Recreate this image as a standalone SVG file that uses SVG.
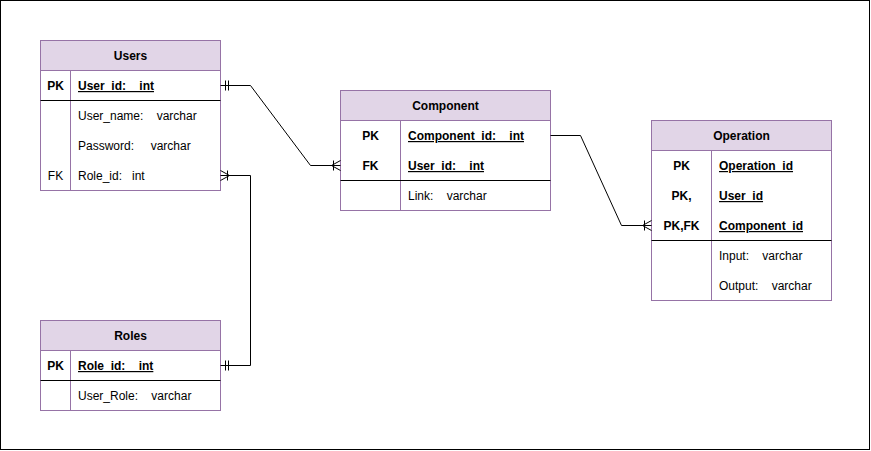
<svg xmlns="http://www.w3.org/2000/svg" width="871" height="451" viewBox="0 0 871 451">
  <style>
    .hdr { fill: #e1d5e7; stroke: #9673a6; stroke-width: 1; }
    .box { fill: #ffffff; stroke: #9673a6; stroke-width: 1; }
    .sep { stroke: #9673a6; stroke-width: 1; fill: none; }
    .div { stroke: #000000; stroke-width: 1; fill: none; }
    text { font-family: "Liberation Sans", Arial, Helvetica, sans-serif; font-size: 12px; fill: #000000; white-space: pre; }
    .t { font-weight: bold; text-anchor: middle; }
    .k { font-weight: bold; text-anchor: middle; }
    .kn { text-anchor: middle; }
    .pk { font-weight: bold; text-decoration: underline; }
    .ln { stroke: #000000; stroke-width: 1; fill: none; }
  </style>

  <rect x="0.5" y="0.5" width="869" height="449" fill="#ffffff" stroke="#000000" stroke-width="1"/>

  <!-- Users -->
  <g id="users">
    <rect class="box" x="40.5" y="40.5" width="180" height="150"/>
    <rect class="hdr" x="40.5" y="40.5" width="180" height="30"/>
    <line class="sep" x1="70.5" y1="70.5" x2="70.5" y2="190.5"/>
    <line class="div" x1="40.5" y1="100.5" x2="220.5" y2="100.5"/>
    <text class="t" x="130.5" y="60">Users</text>
    <text class="k" x="55.5" y="90">PK</text>
    <text class="pk" x="78" y="90">User_id:    int</text>
    <text x="78" y="120">User_name:    varchar</text>
    <text x="78" y="150">Password:     varchar</text>
    <text class="kn" x="55.5" y="180">FK</text>
    <text x="78" y="180">Role_id:   int</text>
  </g>

  <!-- Roles -->
  <g id="roles">
    <rect class="box" x="40.5" y="320.5" width="180" height="90"/>
    <rect class="hdr" x="40.5" y="320.5" width="180" height="30"/>
    <line class="sep" x1="70.5" y1="350.5" x2="70.5" y2="410.5"/>
    <line class="div" x1="40.5" y1="380.5" x2="220.5" y2="380.5"/>
    <text class="t" x="130.5" y="340">Roles</text>
    <text class="k" x="55.5" y="370">PK</text>
    <text class="pk" x="78" y="370">Role_id:    int</text>
    <text x="78" y="400">User_Role:    varchar</text>
  </g>

  <!-- Component -->
  <g id="component">
    <rect class="box" x="340.5" y="90.5" width="210" height="120"/>
    <rect class="hdr" x="340.5" y="90.5" width="210" height="30"/>
    <line class="sep" x1="400.5" y1="120.5" x2="400.5" y2="210.5"/>
    <line class="div" x1="340.5" y1="180.5" x2="550.5" y2="180.5"/>
    <text class="t" x="445.5" y="110">Component</text>
    <text class="k" x="370.5" y="140">PK</text>
    <text class="pk" x="408" y="140">Component_id:    int</text>
    <text class="k" x="370.5" y="170">FK</text>
    <text class="pk" x="408" y="170">User_id:    int</text>
    <text x="408" y="200">Link:    varchar</text>
  </g>

  <!-- Operation -->
  <g id="operation">
    <rect class="box" x="651.5" y="120.5" width="180" height="180"/>
    <rect class="hdr" x="651.5" y="120.5" width="180" height="30"/>
    <line class="sep" x1="711.5" y1="150.5" x2="711.5" y2="300.5"/>
    <line class="div" x1="651.5" y1="240.5" x2="831.5" y2="240.5"/>
    <text class="t" x="741.5" y="140">Operation</text>
    <text class="k" x="681.5" y="170">PK</text>
    <text class="pk" x="719" y="170">Operation_id</text>
    <text class="k" x="681.5" y="200">PK,</text>
    <text class="pk" x="719" y="200">User_id</text>
    <text class="k" x="681.5" y="230">PK,FK</text>
    <text class="pk" x="719" y="230">Component_id</text>
    <text x="719" y="260">Input:    varchar</text>
    <text x="719" y="290">Output:    varchar</text>
  </g>

  <!-- Relationships -->
  <g id="connectors">
    <!-- Users.User_id to Component.User_id -->
    <path class="ln" d="M220.5 85.5 H250.5 L310.5 165.5 H340.5"/>
    <path class="ln" d="M225.5 80.5 V90.5 M228.5 80.5 V90.5"/>
    <path class="ln" d="M340.5 160.5 L331.5 165.5 L340.5 170.5 M333.5 160.5 V170.5"/>

    <!-- Users.Role_id to Roles.Role_id -->
    <path class="ln" d="M220.5 175.5 H250.5 V365.5 H220.5"/>
    <path class="ln" d="M220.5 170.5 L229.5 175.5 L220.5 180.5 M227.5 170.5 V180.5"/>
    <path class="ln" d="M225.5 360.5 V370.5 M228.5 360.5 V370.5"/>

    <!-- Component.Component_id to Operation.Component_id -->
    <path class="ln" d="M550.5 135.5 H580.5 L621.5 225.5 H651.5"/>
    <path class="ln" d="M651.5 220.5 L642.5 225.5 L651.5 230.5 M644.5 220.5 V230.5"/>
  </g>
</svg>
